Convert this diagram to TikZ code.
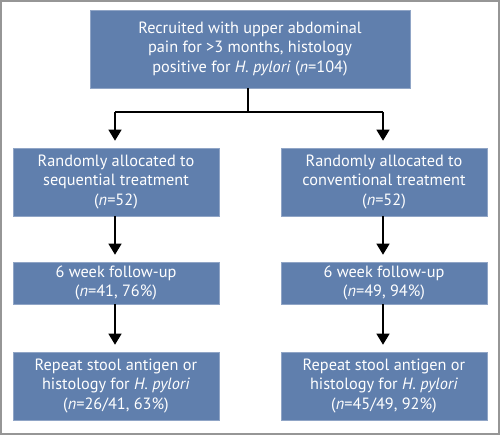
\documentclass[tikz,border=0pt]{standalone}
\usepackage{fontspec}
\setmainfont{PT Sans}
\usetikzlibrary{arrows.meta}
\definecolor{boxblue}{RGB}{96,127,173}
\definecolor{frame}{RGB}{150,150,150}
\tikzset{
  box/.style={draw=boxblue!70!white, line width=0.6pt, fill=boxblue, text=white, align=center, inner sep=0pt,
    font=\fontsize{16.3pt}{19.5pt}\selectfont},
  conn/.style={line width=1.3pt, black},
  arr/.style={conn, -{Triangle[width=13pt,length=11pt]}}
}
\begin{document}
\begin{tikzpicture}[x=1pt,y=-1pt]
\useasboundingbox (0,0) rectangle (500,435);
\draw[frame, line width=1.5pt] (1,1) rectangle (499,434);
\node[box, minimum width=320pt, minimum height=78pt] (top) at (250,49)
  {Recruited with upper abdominal\\pain for >3 months, histology\\positive for \textit{H. pylori} (\textit{n}=104)};
\node[box, minimum width=206pt, minimum height=68pt] (l1) at (116,182)
  {Randomly allocated to\\sequential treatment\\(\textit{n}=52)};
\node[box, minimum width=206pt, minimum height=68pt] (r1) at (384,182)
  {Randomly allocated to\\conventional treatment\\(\textit{n}=52)};
\node[box, minimum width=206pt, minimum height=42pt] (l2) at (116,283)
  {6 week follow-up\\(\textit{n}=41, 76\%)};
\node[box, minimum width=206pt, minimum height=42pt] (r2) at (384,283)
  {6 week follow-up\\(\textit{n}=49, 94\%)};
\node[box, minimum width=206pt, minimum height=68pt] (l3) at (116,386)
  {Repeat stool antigen or\\histology for \textit{H. pylori}\\(\textit{n}=26/41, 63\%)};
\node[box, minimum width=206pt, minimum height=68pt] (r3) at (384,386)
  {Repeat stool antigen or\\histology for \textit{H. pylori}\\(\textit{n}=45/49, 92\%)};
\coordinate (split) at (248,112);
\coordinate (sl) at (115,112);
\coordinate (sr) at (383,112);
\draw[conn] (top.south -| split) -- (split);
\draw[conn] (sl) -- (sr);
\draw[arr, shorten >=7pt] (sl) -- (sl |- l1.north);
\draw[arr, shorten >=7pt] (sr) -- (sr |- r1.north);
\draw[arr, shorten >=7pt] (l1.south -| sl) -- (l2.north -| sl);
\draw[arr, shorten >=7pt] (r1.south -| sr) -- (r2.north -| sr);
\draw[arr, shorten >=7pt] (l2.south -| sl) -- (l3.north -| sl);
\draw[arr, shorten >=7pt] (r2.south -| sr) -- (r3.north -| sr);
\end{tikzpicture}
\end{document}
